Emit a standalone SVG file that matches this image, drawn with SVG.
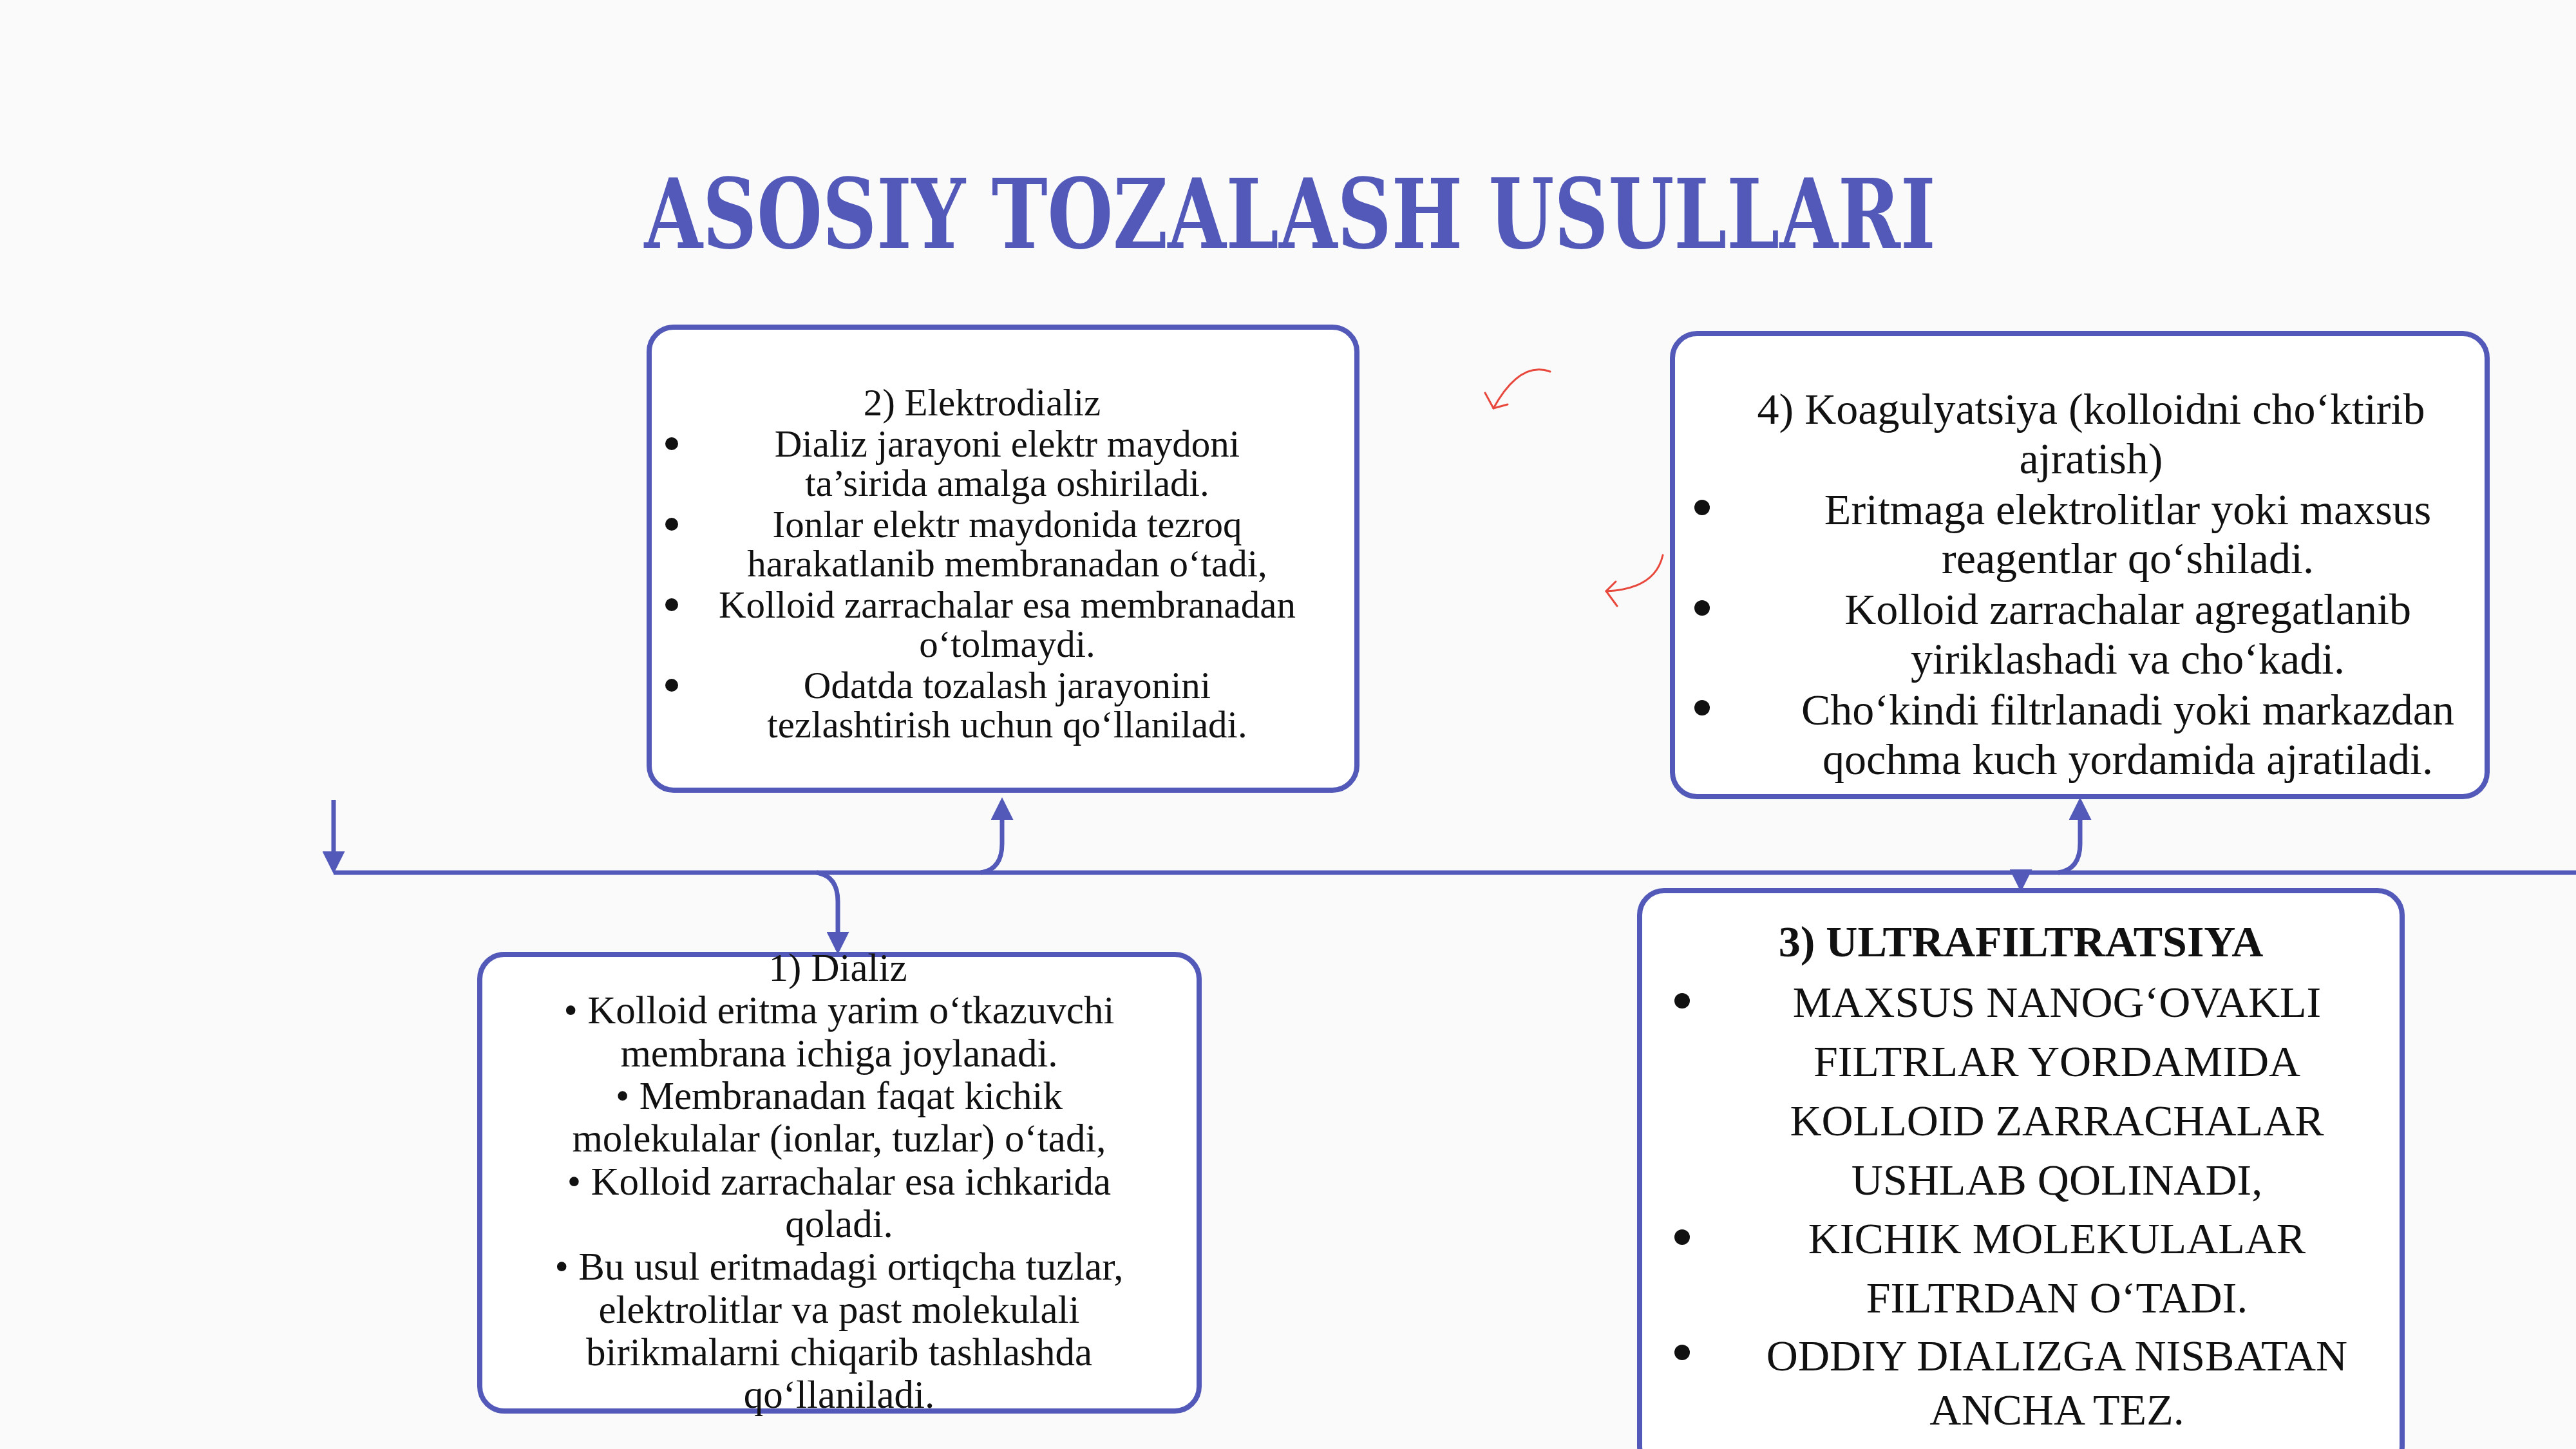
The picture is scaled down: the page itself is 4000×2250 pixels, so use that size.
<svg xmlns="http://www.w3.org/2000/svg" width="4000" height="2250" viewBox="0 0 4000 2250">
<defs>
<style>
.box{fill:#fff;stroke:#5259b8;stroke-width:8}
.t{font-family:"Liberation Serif","DejaVu Serif",serif;fill:#111;text-anchor:middle}
.s2{font-size:59px}.s4{font-size:68px}.s1{font-size:61px}.s3{font-size:68px}
.ln{fill:none;stroke:#5259b8;stroke-width:7}
.red{fill:none;stroke:#e8483c;stroke-width:3;stroke-linecap:round}
</style>
<marker id="ah" viewBox="0 0 10 10" refX="8" refY="5" markerWidth="5" markerHeight="5" orient="auto"><path d="M0,0 L10,5 L0,10 z" fill="#5259b8"/></marker>
</defs>
<rect width="4000" height="2250" fill="#fafafa"/>
<text x="2003" y="385" font-family="'DejaVu Serif',serif" font-weight="bold" font-size="150" fill="#5259b8" text-anchor="middle" textLength="2005" lengthAdjust="spacingAndGlyphs">ASOSIY TOZALASH USULLARI</text>
<g id="connectors">
<line class="ln" x1="518" y1="1355" x2="4000" y2="1355"/>
<line class="ln" x1="518" y1="1242" x2="518" y2="1350" marker-end="url(#ah)"/>
<path class="ln" d="M1523,1355 Q1556,1350 1556,1310 L1556,1245" marker-end="url(#ah)"/>
<path class="ln" d="M1268,1355 Q1301,1360 1301,1400 L1301,1475" marker-end="url(#ah)"/>
<path class="ln" d="M3196,1355 Q3230,1350 3230,1310 L3230,1245" marker-end="url(#ah)"/>
<line class="ln" x1="3138" y1="1355" x2="3138" y2="1378" marker-end="url(#ah)"/>
</g>
<g id="red-arrows">
<path class="red" d="M2407,577 Q2360,560 2319,634"/>
<path class="red" d="M2306,610 L2319,634 L2341,628"/>
<path class="red" d="M2582,862 Q2570,915 2494,918"/>
<path class="red" d="M2509,903 L2494,918 L2511,941"/>
</g>
<g id="node2">
<rect class="box" x="1008" y="508" width="1099" height="719" rx="38"/>
<g fill="#111"><circle cx="1043" cy="689" r="10"/><circle cx="1043" cy="814" r="10"/><circle cx="1043" cy="939" r="10"/><circle cx="1043" cy="1064" r="10"/></g>
<text class="t s2" x="1525" y="645">2) Elektrodializ</text>
<text class="t s2" x="1564" y="709">Dializ jarayoni elektr maydoni</text>
<text class="t s2" x="1564" y="770">ta’sirida amalga oshiriladi.</text>
<text class="t s2" x="1564" y="834">Ionlar elektr maydonida tezroq</text>
<text class="t s2" x="1564" y="895">harakatlanib membranadan oʻtadi,</text>
<text class="t s2" x="1564" y="959">Kolloid zarrachalar esa membranadan</text>
<text class="t s2" x="1564" y="1020">oʻtolmaydi.</text>
<text class="t s2" x="1564" y="1084">Odatda tozalash jarayonini</text>
<text class="t s2" x="1564" y="1145">tezlashtirish uchun qoʻllaniladi.</text>
</g>
<g id="node4">
<rect class="box" x="2597" y="518" width="1265" height="719" rx="38"/>
<g fill="#111"><circle cx="2643" cy="788" r="12"/><circle cx="2643" cy="944" r="12"/><circle cx="2643" cy="1099" r="12"/></g>
<text class="t s4" x="3247" y="658">4) Koagulyatsiya (kolloidni choʻktirib</text>
<text class="t s4" x="3247" y="735">ajratish)</text>
<text class="t s4" x="3304" y="814">Eritmaga elektrolitlar yoki maxsus</text>
<text class="t s4" x="3304" y="890">reagentlar qoʻshiladi.</text>
<text class="t s4" x="3304" y="969">Kolloid zarrachalar agregatlanib</text>
<text class="t s4" x="3304" y="1046">yiriklashadi va choʻkadi.</text>
<text class="t s4" x="3304" y="1125">Choʻkindi filtrlanadi yoki markazdan</text>
<text class="t s4" x="3304" y="1202">qochma kuch yordamida ajratiladi.</text>
</g>
<g id="node1">
<rect class="box" x="745" y="1482" width="1117" height="709" rx="38"/>
<text class="t s1" x="1301" y="1523">1) Dializ</text>
<text class="t s1" x="1303" y="1589">• Kolloid eritma yarim oʻtkazuvchi</text>
<text class="t s1" x="1303" y="1656">membrana ichiga joylanadi.</text>
<text class="t s1" x="1303" y="1722">• Membranadan faqat kichik</text>
<text class="t s1" x="1303" y="1788">molekulalar (ionlar, tuzlar) oʻtadi,</text>
<text class="t s1" x="1303" y="1855">• Kolloid zarrachalar esa ichkarida</text>
<text class="t s1" x="1303" y="1921">qoladi.</text>
<text class="t s1" x="1303" y="1987">• Bu usul eritmadagi ortiqcha tuzlar,</text>
<text class="t s1" x="1303" y="2054">elektrolitlar va past molekulali</text>
<text class="t s1" x="1303" y="2120">birikmalarni chiqarib tashlashda</text>
<text class="t s1" x="1303" y="2186">qoʻllaniladi.</text>
</g>
<g id="node3">
<rect class="box" x="2546" y="1383" width="1184" height="900" rx="38"/>
<g fill="#111"><circle cx="2612" cy="1554" r="12"/><circle cx="2612" cy="1921" r="12"/><circle cx="2612" cy="2100" r="12"/></g>
<text class="t s3" x="3138" y="1485" font-weight="bold">3) ULTRAFILTRATSIYA</text>
<text class="t s3" x="3194" y="1579">MAXSUS NANOGʻOVAKLI</text>
<text class="t s3" x="3194" y="1671">FILTRLAR YORDAMIDA</text>
<text class="t s3" x="3194" y="1763">KOLLOID ZARRACHALAR</text>
<text class="t s3" x="3194" y="1855">USHLAB QOLINADI,</text>
<text class="t s3" x="3194" y="1946">KICHIK MOLEKULALAR</text>
<text class="t s3" x="3194" y="2038">FILTRDAN OʻTADI.</text>
<text class="t s3" x="3194" y="2128">ODDIY DIALIZGA NISBATAN</text>
<text class="t s3" x="3194" y="2212">ANCHA TEZ.</text>
</g>
</svg>
